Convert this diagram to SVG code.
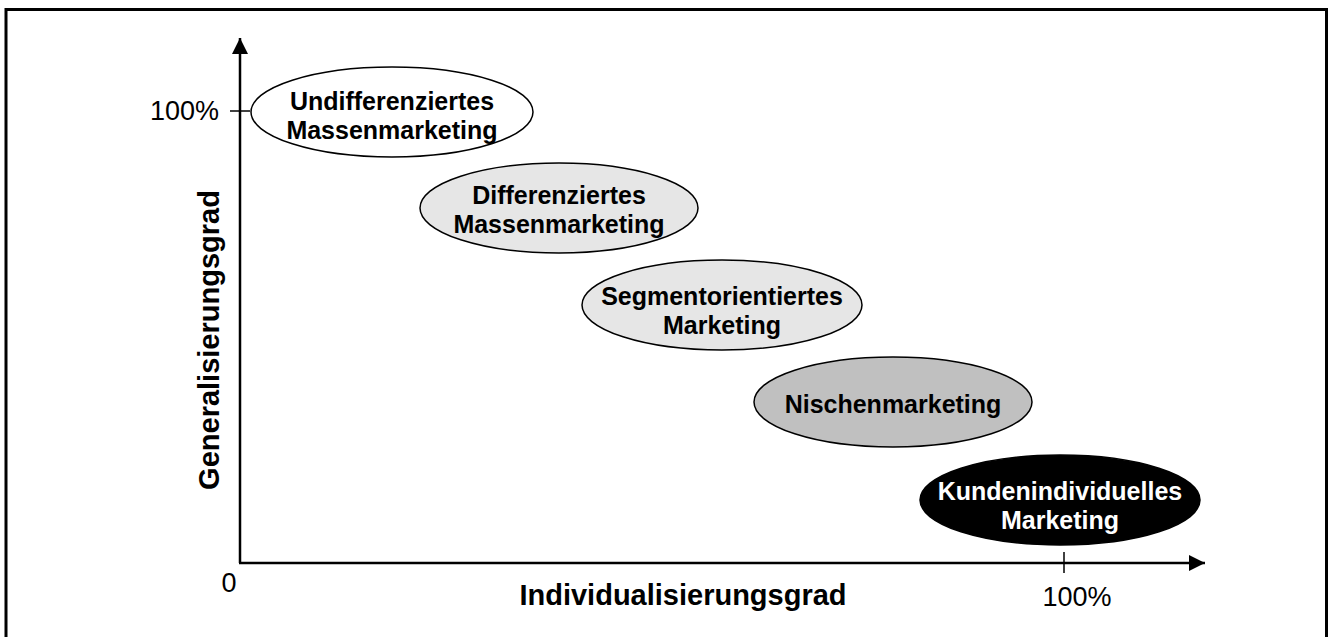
<svg xmlns="http://www.w3.org/2000/svg" width="1329" height="637" viewBox="0 0 1329 637">
<defs>
<style>
.frame{fill:#fff;stroke:#000;stroke-width:3}
.axis{stroke:#000;stroke-width:2.5;fill:none}
.tick{stroke:#000;stroke-width:1.5}
.node{stroke:#000;stroke-width:1.5}
.lbl{font-family:"Liberation Sans",Arial,sans-serif;font-weight:bold;font-size:25px;text-anchor:middle;fill:#000}
.ax{font-family:"Liberation Sans",Arial,sans-serif;font-weight:bold;font-size:29px;text-anchor:middle;fill:#000}
.num{font-family:"Liberation Sans",Arial,sans-serif;font-size:27px;text-anchor:middle;fill:#000}
.inv{fill:#fff}
</style>
<marker id="arr" viewBox="0 0 16 16" refX="16" refY="8" markerWidth="16" markerHeight="16" markerUnits="userSpaceOnUse" orient="auto">
<path d="M0,0 L16,8 L0,16 Z" fill="#000"/>
</marker>
</defs>
<rect class="frame" x="6" y="9.5" width="1320.5" height="640"/>
<g id="connectors">
<line class="axis" x1="240" y1="563" x2="240" y2="38" marker-end="url(#arr)"/>
<line class="axis" x1="239" y1="563" x2="1205" y2="563" marker-end="url(#arr)"/>
<line class="tick" x1="230" y1="111" x2="250" y2="111"/>
<line class="tick" x1="1064" y1="552" x2="1064" y2="573"/>
</g>
<g id="axis-labels">
<text class="num" x="219" y="120" style="text-anchor:end">100%</text>
<text class="num" x="229" y="592">0</text>
<text class="num" x="1077" y="606">100%</text>
<text class="ax" x="683" y="605">Individualisierungsgrad</text>
<text class="ax" transform="translate(219,340) rotate(-90)">Generalisierungsgrad</text>
</g>
<g id="n1">
<ellipse class="node" cx="392" cy="112" rx="141" ry="45" fill="#fff"/>
<text class="lbl" x="392" y="110">Undifferenziertes</text>
<text class="lbl" x="392" y="139">Massenmarketing</text>
</g>
<g id="n2">
<ellipse class="node" cx="559" cy="208" rx="139" ry="45" fill="#e6e6e6"/>
<text class="lbl" x="559" y="204">Differenziertes</text>
<text class="lbl" x="559" y="233">Massenmarketing</text>
</g>
<g id="n3">
<ellipse class="node" cx="722" cy="305" rx="140" ry="45" fill="#e6e6e6"/>
<text class="lbl" x="722" y="305">Segmentorientiertes</text>
<text class="lbl" x="722" y="334">Marketing</text>
</g>
<g id="n4">
<ellipse class="node" cx="893" cy="402" rx="139" ry="45" fill="#c0c0c0"/>
<text class="lbl" x="893" y="413">Nischenmarketing</text>
</g>
<g id="n5">
<ellipse class="node" cx="1060" cy="500" rx="140" ry="45" fill="#000"/>
<text class="lbl inv" x="1060" y="500">Kundenindividuelles</text>
<text class="lbl inv" x="1060" y="529">Marketing</text>
</g>
</svg>
